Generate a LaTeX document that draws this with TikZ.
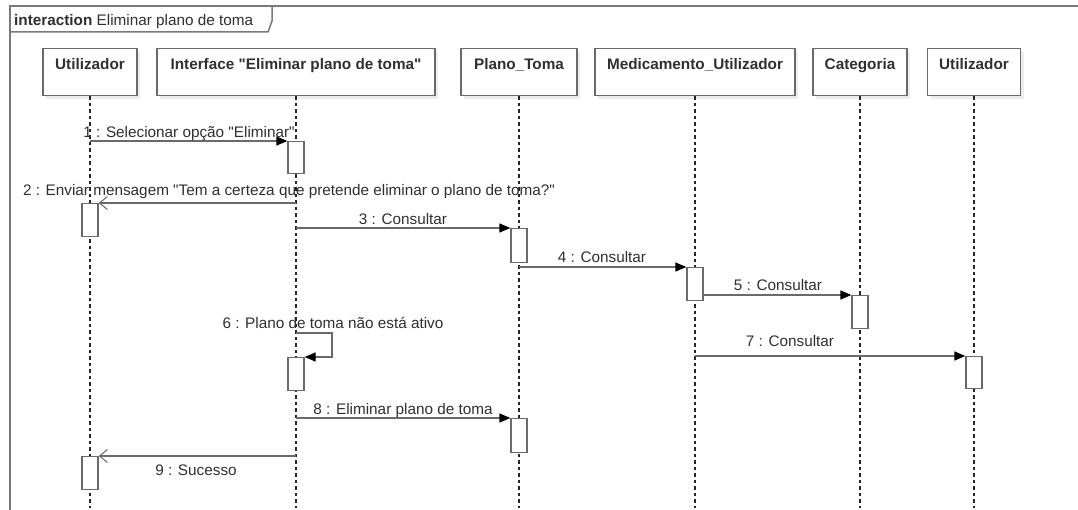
\documentclass[tikz,border=0pt]{standalone}
\usepackage{fontspec}
\setmainfont{Liberation Sans}[Ligatures=TeXOff]
\usetikzlibrary{arrows.meta,shadows}
\definecolor{edge}{HTML}{6A6A6A}
\definecolor{ink}{HTML}{303030}
\definecolor{framec}{HTML}{7A7A7A}
\begin{document}
\begin{tikzpicture}[x=1pt,y=-1pt,
  every node/.style={font=\fontsize{15.3}{18}\selectfont, text=ink},
  head/.style={draw=edge, line width=1.3pt, fill=white, minimum height=47pt,
    inner sep=0pt, font=\fontsize{15.3}{18}\selectfont\bfseries,
    text height=11pt, text depth=17pt, anchor=north,
    drop shadow={shadow xshift=3pt, shadow yshift=-3pt, fill=black!7, opacity=1}},
  life/.style={draw=black!85, line width=1.1pt, dash pattern=on 3.5pt off 3pt},
  act/.style={draw=edge, line width=1.3pt, fill=white, minimum width=16pt,
    inner sep=0pt, anchor=north},
  msg/.style={draw=edge, line width=1.3pt,
    -{Triangle[length=11pt,width=9pt,color=black]}},
  reply/.style={draw=edge, line width=1.3pt,
    -{Straight Barb[length=8pt,width=13pt,line width=1pt]}},
  lbl/.style={anchor=base, inner sep=0pt},
  framel/.style={draw=framec, line width=1.5pt},
]
\fill[white] (0,0) rectangle (1078,510);
\useasboundingbox (0,0) rectangle (1078,510);

% interaction frame and its name tab
\draw[framel] (1078,6) -- (10,6) -- (10,510);
\draw[framel] (10,32) -- (268,32) -- (272,21) -- (272,6);
\node[anchor=base west, inner sep=0pt] (title) at (14,25.5)
  {\textbf{interaction} Eliminar plano de toma};

% lifeline heads
\node[head, minimum width=94pt]  (u1) at (90,48)  {Utilizador};
\node[head, minimum width=278pt] (if) at (296,48) {Interface "Eliminar plano de toma"};
\node[head, minimum width=116pt] (pt) at (519,48) {Plano\_Toma};
\node[head, minimum width=200pt] (mu) at (695,48) {Medicamento\_Utilizador};
\node[head, minimum width=94pt]  (ca) at (860,48) {Categoria};
\node[head, minimum width=93pt]  (u2) at (974,48) {Utilizador};

% lifeline ends
\coordinate (u1e) at (90,508);
\coordinate (ife) at (296,508);
\coordinate (pte) at (519,508);
\coordinate (mue) at (695,508);
\coordinate (cae) at (860,508);
\coordinate (u2e) at (974,508);

\draw[life] (u1.south) -- (u1e);
\draw[life] (if.south) -- (ife);
\draw[life] (pt.south) -- (pte);
\draw[life] (mu.south) -- (mue);
\draw[life] (ca.south) -- (cae);
\draw[life] (u2.south) -- (u2e);

% activation bars
\node[act, minimum height=32pt] (a1) at (296,141) {};
\node[act, minimum height=33pt] (a2) at (90,203)  {};
\node[act, minimum height=34pt] (a3) at (519,228) {};
\node[act, minimum height=33pt] (a4) at (695,267) {};
\node[act, minimum height=33pt] (a5) at (860,295) {};
\node[act, minimum height=33pt] (a6) at (296,357) {};
\node[act, minimum height=32pt] (a7) at (974,356) {};
\node[act, minimum height=34pt] (a8) at (519,418) {};
\node[act, minimum height=33pt] (a9) at (90,456)  {};

% message origins on the lifelines
\coordinate (m1) at (90,141);
\coordinate (m2) at (296,203);
\coordinate (m3) at (296,228);
\coordinate (m4) at (519,267);
\coordinate (m6) at (296,333);
\coordinate (s6a) at (332,333);
\coordinate (s6b) at (332,357);
\coordinate (m7) at (695,356);
\coordinate (m8) at (296,418);
\coordinate (m9) at (296,456);

% messages
\draw[msg]   (m1) -- (a1.north west);
\draw[reply] (m2) -- (a2.north east);
\draw[msg]   (m3) -- (a3.north west);
\draw[msg]   (m4) -- (a4.north west);
\draw[msg]   (a4.east |- a5.north) -- (a5.north west);
\draw[msg]   (m6) -- (s6a) -- (s6b) -- (a6.north east);
\draw[msg]   (m7) -- (a7.north west);
\draw[msg]   (m8) -- (a8.north west);
\draw[reply] (m9) -- (a9.north east);

% message labels
\node[lbl] (l1) at (189,137.5) {1 : Selecionar opção "Eliminar"};
\node[lbl] (l2) at (289,195.5) {2 : Enviar mensagem "Tem a certeza que pretende eliminar o plano de toma?"};
\node[lbl] (l3) at (403,224.5) {3 : Consultar};
\node[lbl] (l4) at (602,262.5) {4 : Consultar};
\node[lbl] (l5) at (778,290.5) {5 : Consultar};
\node[lbl] (l6) at (333,328.5) {6 : Plano de toma não está ativo};
\node[lbl] (l7) at (790,346.5) {7 : Consultar};
\node[lbl] (l8) at (403,414.5) {8 : Eliminar plano de toma};
\node[lbl] (l9) at (196,475.5) {9 : Sucesso};
\end{tikzpicture}
\end{document}
